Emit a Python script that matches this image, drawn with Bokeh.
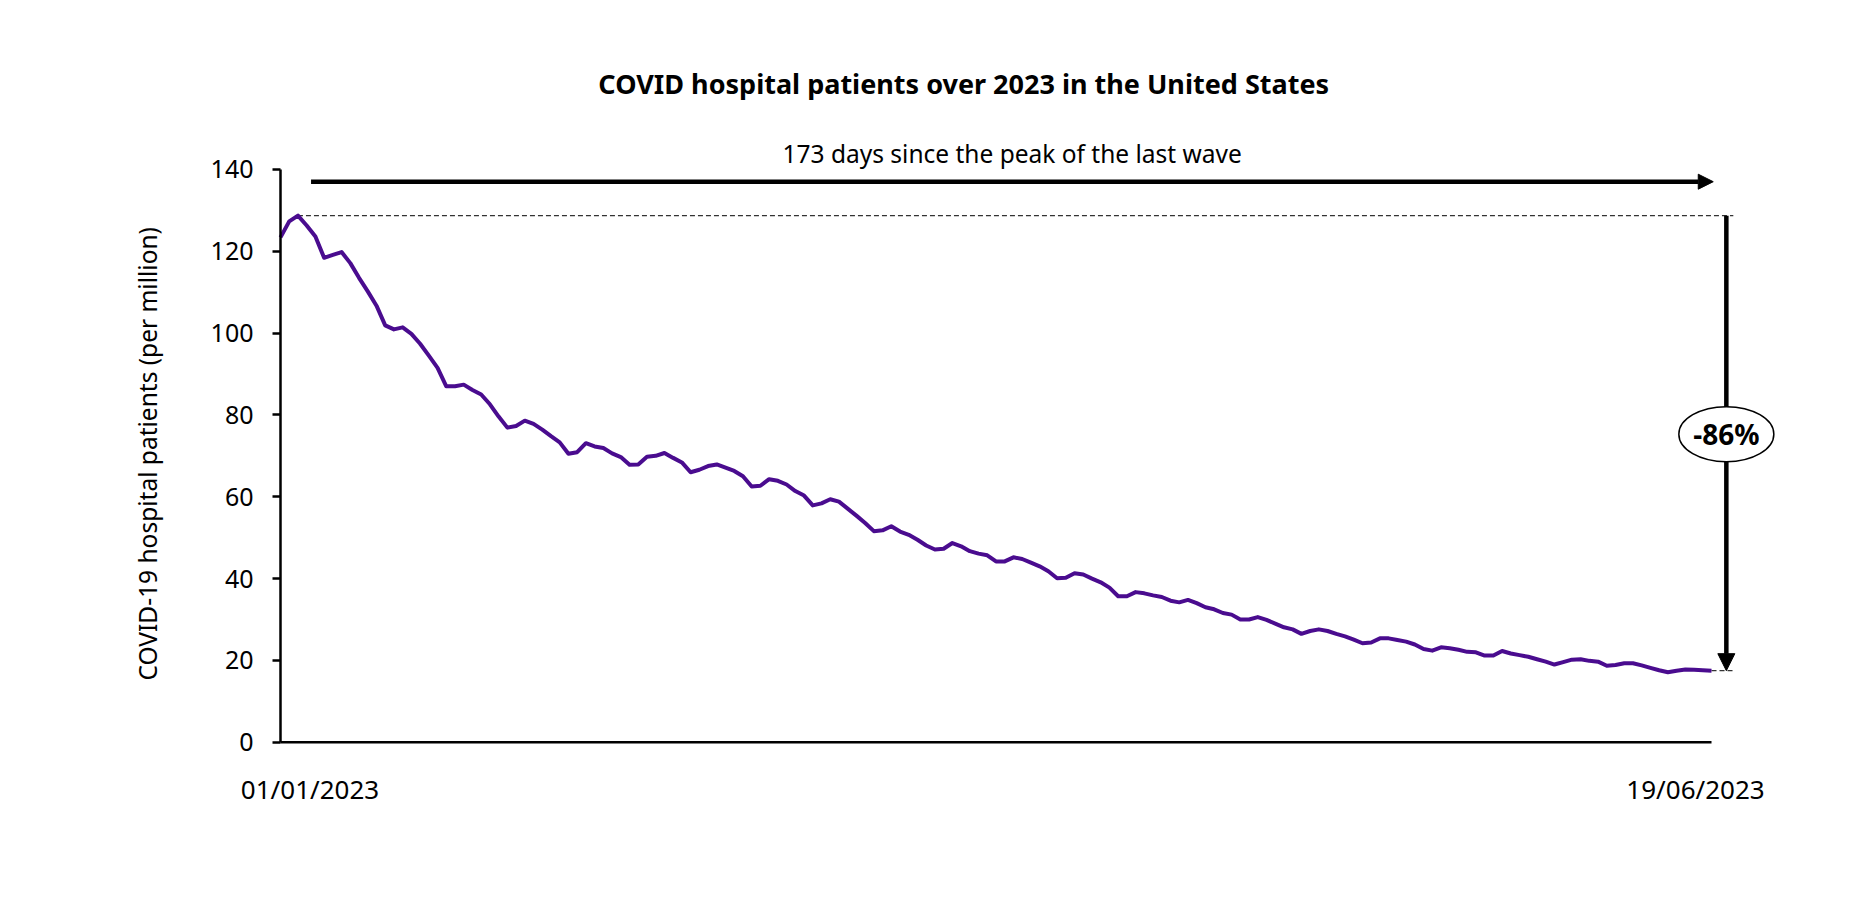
import math
from bokeh.plotting import figure
from bokeh.models import Range1d, Arrow, NormalHead, FixedTicker, LinearAxis
from bokeh.core.properties import value
from bokeh.embed import file_html
from bokeh.resources import INLINE

# ---- data (COVID-19 hospital patients per million, daily) ----
patients = [
    123.4, 127.3, 128.7, 126.3, 123.6, 118.4, 119.1, 119.8, 117.1, 113.5,
    110.2, 106.7, 101.9, 100.9, 101.4, 99.8, 97.4, 94.5, 91.5, 87.0,
    87.0, 87.4, 86.1, 85.0, 82.6, 79.6, 76.9, 77.3, 78.6, 77.8,
    76.4, 74.8, 73.3, 70.5, 70.9, 73.1, 72.3, 71.9, 70.6, 69.7,
    67.8, 67.9, 69.8, 70.0, 70.7, 69.5, 68.4, 66.0, 66.6, 67.5,
    67.9, 67.1, 66.3, 65.0, 62.5, 62.7, 64.3, 63.9, 63.0, 61.4,
    60.3, 57.9, 58.4, 59.4, 58.8, 57.1, 55.4, 53.6, 51.6, 51.8,
    52.8, 51.5, 50.7, 49.5, 48.1, 47.1, 47.3, 48.7, 47.9, 46.7,
    46.1, 45.7, 44.2, 44.2, 45.2, 44.8, 43.9, 43.0, 41.8, 40.1,
    40.2, 41.3, 41.0, 40.0, 39.1, 37.8, 35.7, 35.7, 36.7, 36.4,
    35.9, 35.5, 34.6, 34.2, 34.8, 34.0, 33.0, 32.5, 31.6, 31.2,
    30.0, 30.0, 30.6, 29.9, 29.0, 28.1, 27.6, 26.5, 27.2, 27.6,
    27.2, 26.5, 25.9, 25.1, 24.2, 24.4, 25.4, 25.4, 25.0, 24.6,
    23.9, 22.8, 22.4, 23.2, 23.0, 22.6, 22.1, 22.0, 21.2, 21.2,
    22.3, 21.7, 21.3, 20.9, 20.3, 19.7, 19.0, 19.6, 20.2, 20.3,
    19.9, 19.7, 18.7, 18.9, 19.3, 19.3, 18.8, 18.2, 17.6, 17.1,
    17.5, 17.8, 17.7, 17.6, 17.5,
]
days = list(range(len(patients)))
date_labels = ["01/01/2023", "19/06/2023"]
y_ticks = [0, 20, 40, 60, 80, 100, 120, 140]

title_text = "COVID hospital patients over 2023 in the United States"
span_text = "173 days since the peak of the last wave"
y_label = "COVID-19 hospital patients (per million)"

peak_i = max(range(len(patients)), key=lambda i: patients[i])
peak_v = patients[peak_i]
last_i = days[-1]
last_v = patients[-1]
change_text = "{:.0f}%".format((last_v - peak_v) / peak_v * 100)

FONT = "Noto Sans"
LINE_COLOR = "#4a0c8f"

p = figure(
    width=1848, height=904,
    x_range=Range1d(-20.629, 179.7), y_range=Range1d(-39.64, 181.28),
    x_axis_location=None, y_axis_location=None,
    output_backend="svg", toolbar_location=None,
    min_border_left=100, min_border_right=0, min_border_top=0, min_border_bottom=0,
)
p.outline_line_color = None
p.grid.visible = False
p.background_fill_color = "white"
p.border_fill_color = "white"

# y axis, pinned at the first day
ya = LinearAxis(fixed_location=days[0])
ya.bounds = (0, 140)
ya.ticker = FixedTicker(ticks=y_ticks)
ya.minor_tick_line_color = None
ya.axis_line_width = 2.5
ya.axis_line_color = "black"
ya.major_tick_line_width = 2.5
ya.major_tick_line_color = "black"
ya.major_tick_out = 8
ya.major_tick_in = 0
ya.major_label_standoff = 19
ya.major_label_text_font = FONT
ya.major_label_text_font_size = "25px"
ya.major_label_text_color = "black"
p.add_layout(ya, "left")

# y axis title (rotated text beside the axis)
p.text(x=[days[0]], y=[(y_ticks[0] + y_ticks[-1]) / 2 + 0.5], text=[y_label], x_offset=[-133],
       angle=math.pi / 2, text_font=value(FONT), text_font_size="24.5px", text_color="black",
       text_align="center", text_baseline="middle")

# baseline (x axis line)
p.segment(x0=[days[0]], y0=[0], x1=[last_i], y1=[0], line_color="black", line_width=2.5)

# peak and end dashed guide lines
guide_end = last_i + 2.5
p.segment(x0=[peak_i, last_i], y0=[peak_v, last_v], x1=[guide_end, guide_end], y1=[peak_v, last_v],
          line_color="#333333", line_width=1.2, line_dash="5 3")

# data line
p.line(days, patients, line_color=LINE_COLOR, line_width=4, line_join="round")

# top arrow: days since peak
arrow_y = 137.0
p.add_layout(Arrow(end=NormalHead(size=15, fill_color="black", line_color="black"),
                   x_start=peak_i + 1.5, y_start=arrow_y, x_end=last_i + 0.2, y_end=arrow_y,
                   line_width=4.5, line_color="black"))
p.text(x=[(peak_i + 1.5 + last_i + 0.2) / 2], y=[143.8], text=[span_text],
       text_font=value(FONT), text_font_size="24.5px", text_color="black",
       text_align="center", text_baseline="middle")

# vertical arrow: change from peak
vx = last_i + 1.7
p.add_layout(Arrow(end=NormalHead(size=17, fill_color="black", line_color="black"),
                   x_start=vx, y_start=peak_v, x_end=vx, y_end=last_v,
                   line_width=4.5, line_color="black"))
e = p.ellipse(x=[vx], y=[75.3], width=95, height=55, width_units="screen", height_units="screen",
              fill_color="white", line_color="black", line_width=1.5)
e.level = "overlay"
t = p.text(x=[vx], y=[75.3], text=[change_text], text_font=value(FONT), text_font_size="28px",
           text_font_style="bold", text_color="black", text_align="center", text_baseline="middle")
t.level = "overlay"

# title
p.text(x=[78.3], y=[161.0], text=[title_text], text_font=value(FONT), text_font_size="27px",
       text_font_style="bold", text_color="black", text_align="center", text_baseline="middle")

# first / last date labels
p.text(x=[days[0], last_i], y=[-11.4, -11.4], text=date_labels, x_offset=[29.5, -16],
       text_font=value(FONT), text_font_size="26px", text_color="black",
       text_align="center", text_baseline="middle")

open("out.html", "w").write(file_html(p, INLINE))
